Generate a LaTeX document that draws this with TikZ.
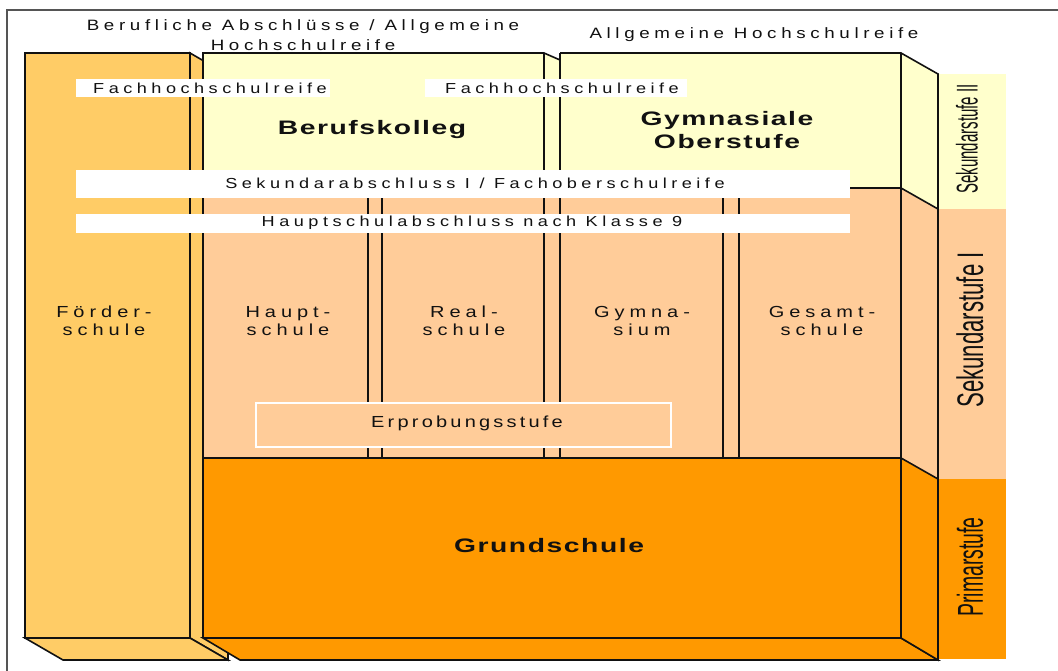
\documentclass[tikz,border=0pt]{standalone}
\usepackage{fontspec}
\setmainfont{Liberation Sans}
\newfontfamily\spaced[FakeStretch=1.25,LetterSpace=31]{Liberation Sans}
\newfontfamily\spacedlow[FakeStretch=1.25,LetterSpace=20]{Liberation Sans}
\newfontfamily\boldwide[FakeStretch=1.45,LetterSpace=8]{Liberation Sans}
\newfontfamily\plainsans{Liberation Sans}
\definecolor{foerder}{HTML}{FFCC66}
\definecolor{ylw}{HTML}{FFFFCC}
\definecolor{peach}{HTML}{FFCC99}
\definecolor{orng}{HTML}{FF9900}
\definecolor{framegray}{HTML}{555555}
\definecolor{ink}{HTML}{111111}
\tikzset{
  blk/.style={draw=ink, line width=1.6pt, line join=miter},
  edge/.style={draw=ink, line width=1.6pt},
  band/.style={fill=white},
  smalltxt/.style={font=\spaced\fontsize{14.5}{20}\selectfont, text=ink, inner sep=0pt},
  toptxt/.style={font=\spaced\fontsize{15}{20}\selectfont, text=ink, inner sep=0pt, align=center},
  coltxt/.style={font=\spaced\fontsize{16}{18}\selectfont, text=ink, inner sep=0pt, align=center},
  boldtxt/.style={font=\boldwide\bfseries\fontsize{19.5}{24}\selectfont, text=ink, inner sep=0pt, align=center},
  sidetxt/.style={text=ink, inner sep=0pt, rotate=90}
}
\begin{document}
\begin{tikzpicture}[x=1pt,y=-1pt]
\useasboundingbox (0,0) rectangle (1058,671);
\fill[white] (0,0) rectangle (1058,671);
% outer frame
\draw[framegray, line width=1.5pt] (7,671) -- (7,10) -- (1058,10);

% right-hand stage column
\fill[ylw] (938,74) rectangle (1006,209);
\fill[peach] (938,209) rectangle (1006,479);
\fill[orng] (938,479) rectangle (1006,659);

% Foerderschule block
\filldraw[blk, fill=foerder] (190,53) -- (228,75) -- (228,660) -- (190,638) -- cycle;
\filldraw[blk, fill=foerder] (25,638) -- (190,638) -- (228,660) -- (63,660) -- cycle;
\filldraw[blk, fill=foerder] (25,53) rectangle (190,638);

% main block: bottom face
\filldraw[blk, fill=orng] (203,638) -- (901,638) -- (938,660) -- (240,660) -- cycle;
% main block: side face
\fill[ylw] (901,53) -- (938,74) -- (938,209) -- (901,188) -- cycle;
\fill[peach] (901,188) -- (938,209) -- (938,479) -- (901,458) -- cycle;
\fill[orng] (901,458) -- (938,479) -- (938,660) -- (901,638) -- cycle;
% main block: front face
\fill[ylw] (203,53) -- (544,53) -- (560,60) -- (560,53) -- (901,53) -- (901,188) -- (203,188) -- cycle;
\fill[peach] (203,188) rectangle (901,458);
\fill[orng] (203,458) rectangle (901,638);

% outlines of the main block
\draw[edge] (203,638) -- (203,53) -- (544,53) -- (560,60);
\draw[edge] (560,53) -- (901,53) -- (938,74) -- (938,660) -- (901,638);
\draw[edge] (901,53) -- (901,638);
\draw[edge] (544,53) -- (544,458);
\draw[edge] (560,53) -- (560,458);
\draw[edge] (368,188) -- (368,458);
\draw[edge] (382,188) -- (382,458);
\draw[edge] (723,188) -- (723,458);
\draw[edge] (739,188) -- (739,458);
\draw[edge] (203,188) -- (901,188) -- (938,209);
\draw[edge] (203,458) -- (901,458) -- (938,479);
\draw[edge] (203,638) -- (901,638);

% white bands
\fill[band] (76,79) rectangle (330,97);
\fill[band] (425,79) rectangle (687,97);
\fill[band] (76,170) rectangle (850,198);
\fill[band] (76,214) rectangle (850,233);
\filldraw[fill=peach, draw=white, line width=1.3pt] (256,403) rectangle (671,447);

% texts
\node[toptxt] (abschl) at (303,35) {Berufliche Abschlüsse / Allgemeine\\Hochschulreife};
\node[toptxt] (ahr) at (754,35) {Allgemeine Hochschulreife};
\node[smalltxt] (fhr1) at (210,88) {Fachhochschulreife};
\node[smalltxt] (fhr2) at (562,88) {Fachhochschulreife};
\node[smalltxt] (sek1abs) at (475,183) {Sekundarabschluss I / Fachoberschulreife};
\node[smalltxt] (hsa) at (472,223) {Hauptschulabschluss nach Klasse 9};
\node[boldtxt] (bk) at (372,130) {Berufskolleg};
\node[boldtxt, font=\boldwide\bfseries\fontsize{19.5}{23}\selectfont] (gost) at (727,130) {Gymnasiale\\Oberstufe};
\node[coltxt] (foe) at (104,321) {Förder-\\schule};
\node[coltxt] (hs) at (288,321) {Haupt-\\schule};
\node[coltxt] (rs) at (464,321) {Real-\\schule};
\node[coltxt] (gym) at (642,321) {Gymna-\\sium};
\node[coltxt] (ges) at (822,321) {Gesamt-\\schule};
\node[coltxt, font=\spacedlow\fontsize{16}{18}\selectfont] (erp) at (467,423) {Erprobungsstufe};
\node[boldtxt] (gs) at (549,546) {Grundschule};
\node[sidetxt, font=\plainsans\fontsize{30}{30}\selectfont] (s2) at (967,139) {\scalebox{0.5}[1]{Sekundarstufe II}};
\node[sidetxt, font=\plainsans\fontsize{37}{37}\selectfont] (s1) at (970,330) {\scalebox{0.6}[1]{Sekundarstufe I}};
\node[sidetxt, font=\plainsans\fontsize{36}{36}\selectfont] (prim) at (970,567) {\scalebox{0.54}[1]{Primarstufe}};
\end{tikzpicture}
\end{document}
